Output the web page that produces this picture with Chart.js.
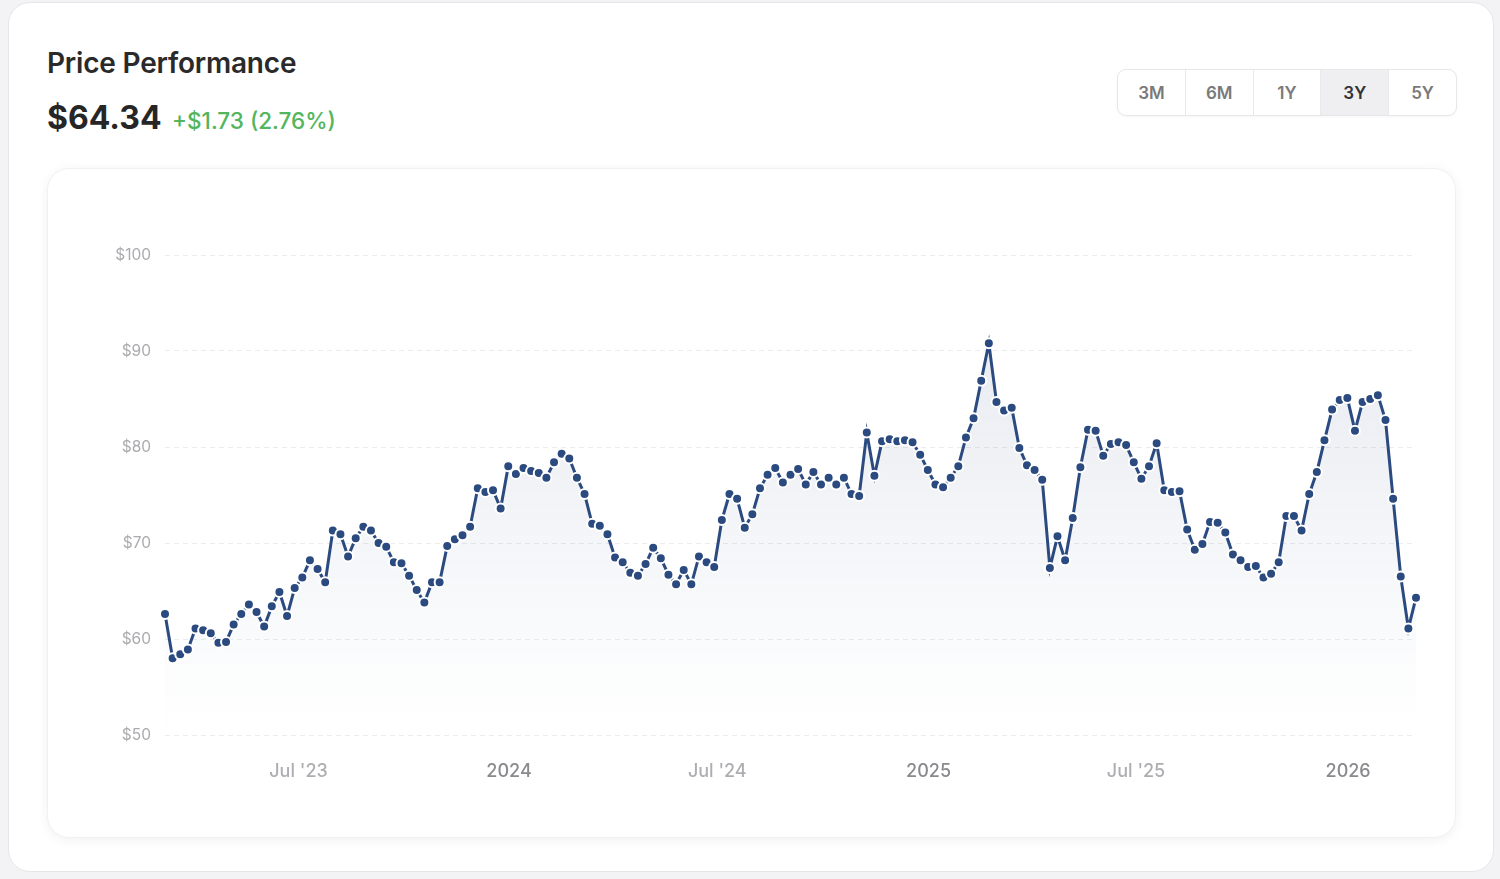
<!DOCTYPE html>
<html>
<head>
<meta charset="utf-8">
<script src="https://cdn.jsdelivr.net/npm/chart.js@4.4.1/dist/chart.umd.min.js"></script>
<style>
  html, body { margin: 0; padding: 0; }
  body { width: 1500px; height: 879px; background: #f3f3f5; font-family: Inter, "Open Sans", Roboto, sans-serif; position: relative; overflow: hidden; }
  .outer { position: absolute; left: 8px; top: 2px; width: 1486px; height: 870px; background: #fff; border: 1px solid #e6e6e8; border-radius: 22px; box-sizing: border-box; }
  .title { position: absolute; left: 47px; top: 46px; font-size: 28px; font-weight: 600; color: #2a2a2a; letter-spacing: -0.2px; }
  .price { position: absolute; left: 47px; top: 98px; font-size: 32px; font-weight: 700; color: #262626; }
  .change { position: absolute; left: 172px; top: 107px; font-size: 22.5px; font-weight: 500; color: #53b55c; }
  .btns { position: absolute; left: 1117px; top: 69px; width: 340px; height: 47px; display: flex; border: 1px solid #e7e7e9; border-radius: 9px; box-sizing: border-box; overflow: hidden; background: #fff; box-shadow: 0 1px 3px rgba(0,0,0,0.04); }
  .btns div { flex: 1; display: flex; align-items: center; justify-content: center; font-size: 17px; font-weight: 600; color: #7a7a7a; border-right: 1px solid #e9e9eb; }
  .btns div:last-child { border-right: none; }
  .btns div.active { background: #efeff1; color: #333; }
  .inner { position: absolute; left: 47px; top: 168px; width: 1409px; height: 670px; background: #fff; border-radius: 22px; box-shadow: 0 2px 12px rgba(0,0,0,0.06); border: 1px solid #f1f1f3; box-sizing: border-box; }
  #wrap { position: absolute; left: 47px; top: 168px; width: 1409px; height: 670px; }
</style>
</head>
<body>
<div class="outer"></div>
<div class="title">Price Performance</div>
<div class="price">$64.34</div>
<div class="change">+$1.73 (2.76%)</div>
<div class="btns"><div>3M</div><div>6M</div><div>1Y</div><div class="active">3Y</div><div>5Y</div></div>
<div class="inner"></div>
<div id="wrap"><canvas id="c" width="1409" height="670"></canvas></div>
<script>
// Price series (evenly spaced samples, Mar 2023 - Feb 2026)
const prices = [62.6,58.0,58.4,58.9,61.1,60.9,60.6,59.6,59.7,61.5,62.6,63.6,62.8,61.3,63.4,64.9,62.4,65.3,66.4,68.2,67.3,65.9,71.3,70.9,68.6,70.5,71.7,71.3,70.0,69.6,68.0,67.9,66.6,65.1,63.8,65.9,65.9,69.7,70.4,70.8,71.7,75.7,75.3,75.5,73.6,78.0,77.2,77.8,77.5,77.3,76.8,78.4,79.3,78.8,76.8,75.1,72.0,71.8,70.9,68.5,68.0,66.9,66.6,67.8,69.5,68.4,66.7,65.7,67.2,65.7,68.6,68.0,67.5,72.4,75.1,74.6,71.6,73.0,75.7,77.1,77.8,76.3,77.1,77.7,76.1,77.4,76.1,76.8,76.1,76.8,75.1,74.9,81.5,77.0,80.6,80.8,80.6,80.7,80.5,79.2,77.6,76.1,75.8,76.8,78.0,81.0,83.0,86.9,90.8,84.7,83.8,84.1,79.9,78.1,77.6,76.6,67.4,70.7,68.2,72.6,77.9,81.8,81.7,79.1,80.3,80.5,80.2,78.4,76.7,78.0,80.4,75.5,75.3,75.4,71.4,69.3,69.9,72.2,72.1,71.1,68.8,68.2,67.5,67.6,66.4,66.8,68.0,72.8,72.8,71.3,75.1,77.4,80.7,83.9,84.9,85.1,81.7,84.7,85.0,85.4,82.8,74.6,66.5,61.1,64.3];
// X-axis tick labels and their positions (in sample index units)
const xTickLabels = ["Jul '23", "2024", "Jul '24", "2025", "Jul '25", "2026"];
const xTickAt = [17.5, 45.1, 72.4, 100.1, 127.3, 155.1];
const yTicks = [50, 60, 70, 80, 90, 100];

const points = prices.map((v, i) => ({ x: i, y: v }));
const lineColor = '#2b4a7f';

new Chart(document.getElementById('c'), {
  type: 'line',
  data: {
    datasets: [{
      data: points,
      borderColor: lineColor,
      borderWidth: 3,
      pointRadius: 5,
      pointBackgroundColor: lineColor,
      pointBorderColor: '#ffffff',
      pointBorderWidth: 2,
      tension: 0,
      clip: false,
      fill: 'start',
      backgroundColor: (ctx) => {
        const ca = ctx.chart.chartArea;
        if (!ca) return 'rgba(44,74,126,0.08)';
        const g = ctx.chart.ctx.createLinearGradient(0, ca.top, 0, ca.bottom);
        g.addColorStop(0, 'rgba(44,74,126,0.13)');
        g.addColorStop(0.9, 'rgba(44,74,126,0.01)');
        g.addColorStop(1, 'rgba(44,74,126,0.0)');
        return g;
      }
    }]
  },
  options: {
    responsive: false,
    animation: false,
    layout: { padding: { top: 87, right: 40, left: 0, bottom: 0 } },
    plugins: { legend: { display: false }, tooltip: { enabled: false } },
    scales: {
      x: {
        type: 'linear',
        min: 0,
        max: prices.length - 1,
        afterFit: (s) => { s.height = 103; },
        afterBuildTicks: (s) => { s.ticks = xTickAt.map(v => ({ value: v })); },
        grid: { display: false, drawTicks: false },
        border: { display: false },
        ticks: {
          autoSkip: false,
          maxRotation: 0,
          padding: 26,
          font: { family: 'Inter', size: 18, weight: 500 },
          color: (c) => (xTickLabels[c.index] || '').startsWith('Jul') ? '#aeaeb2' : '#8a8a8e',
          callback: (v, i) => xTickLabels[i]
        }
      },
      y: {
        min: 50,
        max: 100,
        afterFit: (s) => { s.width = 118; },
        afterBuildTicks: (s) => { s.ticks = yTicks.map(v => ({ value: v })); },
        grid: { color: '#ececee', lineWidth: 1, drawTicks: false },
        border: { display: false, dash: [5, 4] },
        ticks: {
          padding: 14,
          font: { family: 'Inter', size: 15.5 },
          color: '#ababaf',
          callback: (v) => '$' + v
        }
      }
    }
  }
});
</script>
</body>
</html>
